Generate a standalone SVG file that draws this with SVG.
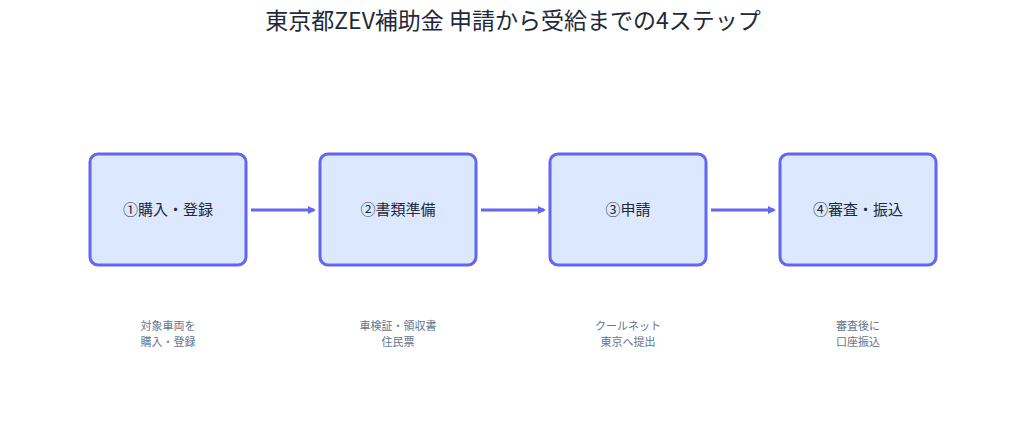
<svg xmlns="http://www.w3.org/2000/svg" width="1027" height="432" viewBox="0 0 1027 432">
<style>
.box{fill:#dbe8fe;stroke:#6366f1;stroke-width:3}
.t{font-family:"Noto Sans CJK JP","Noto Sans",sans-serif;font-size:15px;fill:#1e293b;text-anchor:middle}
.s{font-family:"Noto Sans CJK JP","Noto Sans",sans-serif;font-size:11px;fill:#64748b;text-anchor:middle}
.c{stroke:#6366f1;stroke-width:3;fill:none}
</style>
<defs><marker id="a" markerWidth="8" markerHeight="8" refX="6" refY="4" orient="auto" markerUnits="userSpaceOnUse"><path d="M0,0L8,4L0,8z" fill="#6366f1"/></marker></defs>
<rect width="1027" height="432" fill="#fff"/>
<text x="513" y="29" font-family="'Noto Sans CJK JP','Noto Sans',sans-serif" font-size="23" fill="#1e293b" text-anchor="middle">東京都ZEV補助金 申請から受給までの4ステップ</text>
<g id="n1"><rect class="box" x="90" y="154" width="156" height="111" rx="8"/><text class="t" x="168" y="215">①購入・登録</text><text class="s" x="168" y="330">対象車両を</text><text class="s" x="168" y="346">購入・登録</text></g>
<g id="n2"><rect class="box" x="320" y="154" width="156" height="111" rx="8"/><text class="t" x="398" y="215">②書類準備</text><text class="s" x="398" y="330">車検証・領収書</text><text class="s" x="398" y="346">住民票</text></g>
<g id="n3"><rect class="box" x="550" y="154" width="156" height="111" rx="8"/><text class="t" x="628" y="215">③申請</text><text class="s" x="628" y="330">クールネット</text><text class="s" x="628" y="346">東京へ提出</text></g>
<g id="n4"><rect class="box" x="780" y="154" width="156" height="111" rx="8"/><text class="t" x="858" y="215">④審査・振込</text><text class="s" x="858" y="330">審査後に</text><text class="s" x="858" y="346">口座振込</text></g>
<g id="connectors">
<line class="c" x1="251" y1="210" x2="314" y2="210" marker-end="url(#a)"/>
<line class="c" x1="481" y1="210" x2="544" y2="210" marker-end="url(#a)"/>
<line class="c" x1="711" y1="210" x2="774" y2="210" marker-end="url(#a)"/>
</g>
</svg>
